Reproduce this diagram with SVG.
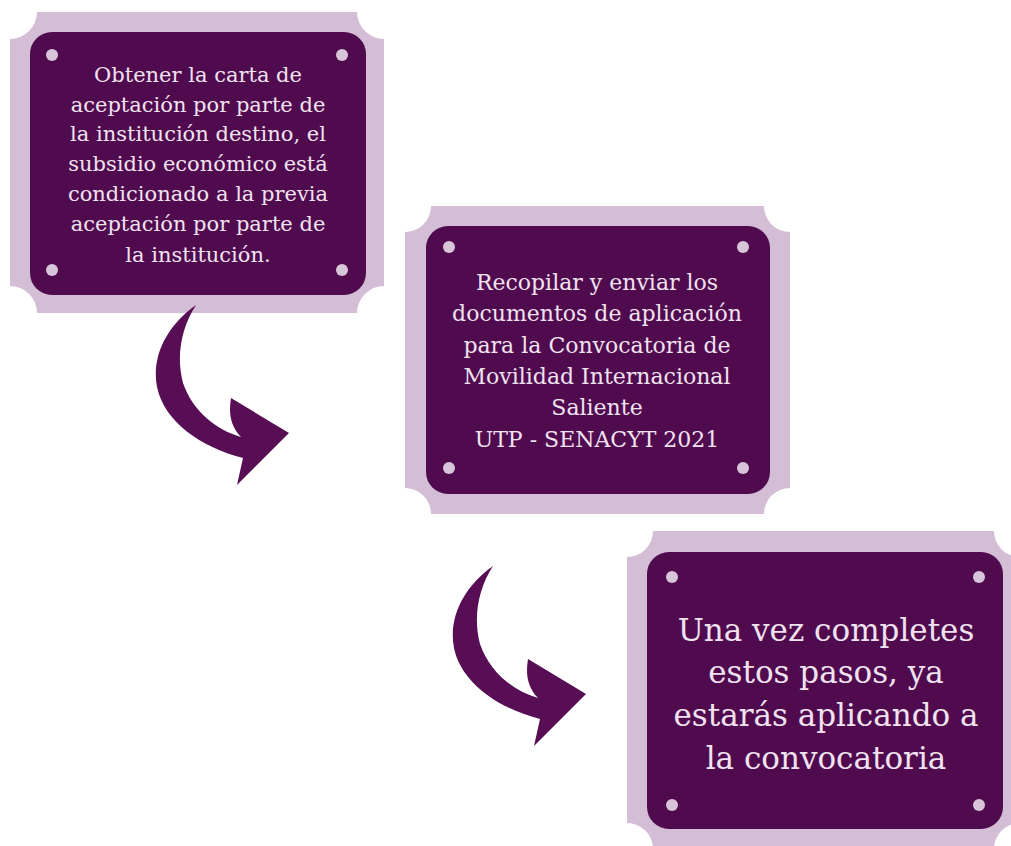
<svg xmlns="http://www.w3.org/2000/svg" width="1011" height="846" viewBox="0 0 1011 846">
<style>
.frame{fill:#d3bed6}
.panel{fill:#500b4f}
.dot{fill:#d8c5da}
.arrow{fill:#570e55}
.t{font-family:"DejaVu Serif","Liberation Serif",serif;fill:#f0e2f0;text-anchor:middle}
.s{font-size:21px}
.m{font-size:22px}
.l{font-size:31px}
</style>
<defs>
<path id="arrow" d="M196,305 C168,325 151,355 157,387 C164,421 200,447 243,458 L237,485 L289,433 L231,398 C229,410 229,425 241,437 C217,430 193,412 183,383 C176,357 181,328 196,305 Z"/>
</defs>
<rect width="1011" height="846" fill="#ffffff"/>
<g id="node1">
<path class="frame" d="M37,12 H357 A27 27 0 0 0 384,39 V286 A27 27 0 0 0 357,313 H37 A27 27 0 0 0 10,286 V39 A27 27 0 0 0 37,12 Z"/>
<rect class="panel" x="30" y="32" width="336" height="263" rx="22"/>
<circle class="dot" cx="52" cy="55" r="6"/>
<circle class="dot" cx="342" cy="55" r="6"/>
<circle class="dot" cx="52" cy="270" r="6"/>
<circle class="dot" cx="342" cy="270" r="6"/>
<text class="t s" x="198" y="82">Obtener la carta de</text>
<text class="t s" x="198" y="112">aceptación por parte de</text>
<text class="t s" x="198" y="141">la institución destino, el</text>
<text class="t s" x="198" y="171">subsidio económico está</text>
<text class="t s" x="198" y="201">condicionado a la previa</text>
<text class="t s" x="198" y="231">aceptación por parte de</text>
<text class="t s" x="198" y="262">la institución.</text>
</g>
<g id="node2">
<path class="frame" d="M431,206 H764 A26 26 0 0 0 790,232 V488 A26 26 0 0 0 764,514 H431 A26 26 0 0 0 405,488 V232 A26 26 0 0 0 431,206 Z"/>
<rect class="panel" x="426" y="226" width="344" height="268" rx="22"/>
<circle class="dot" cx="449" cy="247" r="6"/>
<circle class="dot" cx="743" cy="247" r="6"/>
<circle class="dot" cx="449" cy="468" r="6"/>
<circle class="dot" cx="743" cy="468" r="6"/>
<text class="t m" x="597" y="290">Recopilar y enviar los</text>
<text class="t m" x="597" y="321">documentos de aplicación</text>
<text class="t m" x="597" y="353">para la Convocatoria de</text>
<text class="t m" x="597" y="384">Movilidad Internacional</text>
<text class="t m" x="597" y="415">Saliente</text>
<text class="t m" x="597" y="447">UTP - SENACYT 2021</text>
</g>
<g id="node3">
<path class="frame" d="M653,531 H994 A26 26 0 0 0 1020,557 V823 A26 26 0 0 0 994,849 H653 A26 26 0 0 0 627,823 V557 A26 26 0 0 0 653,531 Z"/>
<rect class="panel" x="647" y="552" width="356" height="277" rx="22"/>
<circle class="dot" cx="672" cy="577" r="6"/>
<circle class="dot" cx="979" cy="577" r="6"/>
<circle class="dot" cx="672" cy="805" r="6"/>
<circle class="dot" cx="979" cy="805" r="6"/>
<text class="t l" x="826" y="641">Una vez completes</text>
<text class="t l" x="826" y="683">estos pasos, ya</text>
<text class="t l" x="826" y="726">estarás aplicando a</text>
<text class="t l" x="826" y="769">la convocatoria</text>
</g>
<g id="connectors">
<use href="#arrow" class="arrow"/>
<use href="#arrow" class="arrow" transform="translate(297,261)"/>
</g>
</svg>
